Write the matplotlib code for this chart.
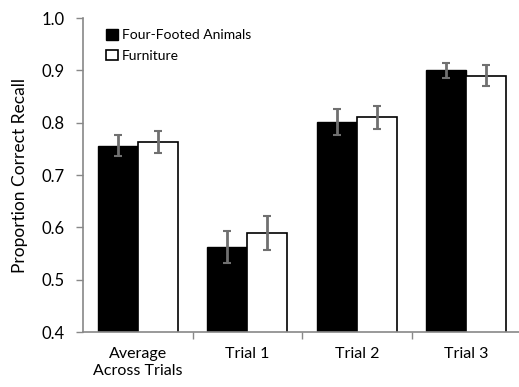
import numpy as np
import matplotlib.pyplot as plt
from matplotlib.ticker import FixedLocator

plt.rcParams['font.family'] = ['Lato', 'DejaVu Sans']

categories = ['Average\nAcross Trials', 'Trial 1', 'Trial 2', 'Trial 3']
animals = [0.756, 0.563, 0.802, 0.900]
animals_err = [0.020, 0.031, 0.025, 0.015]
furniture = [0.764, 0.589, 0.811, 0.890]
furniture_err = [0.021, 0.032, 0.022, 0.020]

fig = plt.figure(figsize=(5.19, 3.87), dpi=100)
ax = fig.add_axes([0.16, 0.142, 0.84, 0.811])

x = np.arange(len(categories))
w = 0.365
err_style = dict(ecolor='#707070', elinewidth=2, capsize=3, capthick=1.5)
ax.bar(x - w / 2, animals, w, color='black', edgecolor='black', linewidth=1,
       yerr=animals_err, error_kw=err_style, label='Four-Footed Animals')
ax.bar(x + w / 2, furniture, w, color='white', edgecolor='black', linewidth=1.2,
       yerr=furniture_err, error_kw=err_style, label='Furniture')

ax.set_ylim(0.4, 1.0)
ax.set_xlim(-0.5, 3.48)
ax.set_yticks(np.arange(0.4, 1.01, 0.1))
ax.set_yticklabels(['%.1f' % v for v in np.arange(0.4, 1.01, 0.1)], fontsize=12)
ax.set_xticks(x)
ax.set_xticklabels(categories, fontsize=11.5)
ax.tick_params(axis='x', which='major', length=0, pad=11)
ax.xaxis.set_minor_locator(FixedLocator([0.5, 1.5, 2.5]))
ax.tick_params(axis='x', which='minor', length=5, color='#888888', width=1)
ax.tick_params(axis='y', length=5, color='#888888', width=1, pad=8)
ax.set_ylabel('Proportion Correct Recall', fontsize=12.5, labelpad=10)

for s in ['top', 'right']:
    ax.spines[s].set_visible(False)
for s in ['left', 'bottom']:
    ax.spines[s].set_color('#888888')
    ax.spines[s].set_linewidth(1.2)

ax.legend(loc='upper left', bbox_to_anchor=(0.025, 1.005), frameon=False,
          fontsize=10, handlelength=0.8, handleheight=0.8, handletextpad=0.3,
          labelspacing=0.6)

fig.savefig('out.png', dpi=100)
